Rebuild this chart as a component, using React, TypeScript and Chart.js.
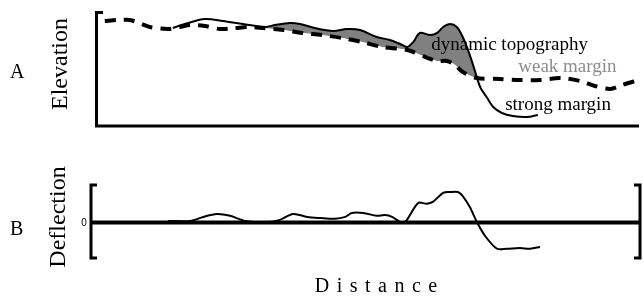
import React, { useEffect, useRef } from "react";
import { Chart, registerables } from "chart.js";
Chart.register(...registerables);

// ---- Data (schematic values) ----
const weakDistance = [1.8, 4.2, 6.4, 8.6, 10.1, 13.4, 15.6, 17.5, 20.2, 23.0, 25.7, 28.5, 30.9, 34.6, 38.1, 41.7, 45.4, 49.1, 52.8, 57.4, 61.2, 62.9, 64.7, 66.2, 67.6, 70.2, 74.4, 78.1, 81.8, 85.5, 89.2, 91.9, 94.7, 96.9, 100];
const weakElevation = [91.3, 92.2, 92.2, 88.7, 86.1, 84.3, 86.1, 87.8, 87.0, 84.3, 85.2, 86.1, 85.2, 83.5, 80.9, 79.1, 76.5, 73.0, 68.7, 66.1, 59.1, 56.5, 56.5, 53.0, 47.0, 41.7, 40.9, 40.0, 40.0, 41.7, 39.1, 34.8, 32.2, 35.7, 40.0];

const strongDistance = [14.3, 16.5, 20.2, 23.5, 27.2, 31.3, 33.1, 35.8, 37.7, 40.4, 43.8, 46.3, 48.7, 51.8, 54.2, 56.1, 57.4, 58.5, 59.7, 61.6, 62.9, 64.0, 65.3, 66.5, 67.6, 68.9, 69.9, 70.8, 72.1, 73.2, 74.8, 76.8, 79.4, 81.4];
const strongElevation = [85.2, 88.7, 93.0, 91.3, 88.7, 86.1, 87.8, 89.6, 88.7, 85.2, 82.6, 84.3, 83.5, 77.4, 74.8, 71.3, 68.7, 73.0, 80.9, 79.1, 80.9, 86.1, 88.7, 86.1, 77.4, 61.7, 47.0, 33.9, 24.3, 16.5, 11.3, 8.7, 7.8, 9.6];

const dynamicTopoRange = [31, 71];

const deflDistance = [13.4, 17.5, 19.9, 22.4, 24.8, 27.6, 31.8, 34.0, 36.4, 39.0, 41.4, 44.1, 46.0, 47.2, 49.3, 51.8, 53.3, 54.6, 56.1, 57.0, 59.4, 61.0, 62.1, 64.0, 65.3, 66.7, 67.6, 68.9, 70.2, 71.7, 73.9, 75.7, 78.1, 80.0, 81.8];
const deflValue = [0.4, 0.4, 1.5, 2.3, 1.8, 0.4, 0.1, 0.7, 2.3, 1.5, 1.2, 1.0, 1.5, 2.6, 2.6, 1.8, 2.0, 1.5, 0.1, 0, 5.3, 5.1, 5.6, 8.1, 8.3, 8.3, 7.2, 4.2, 0.1, -3.7, -7.2, -7.2, -7.0, -7.2, -6.7];

const panelLetters = ["A", "B"];
const yTitles = ["Elevation", "Deflection"];
const xTitle = "Distance";
const curveLabels = ["dynamic topography", "weak margin", "strong margin"];
const zeroTickLabel = "0";

const SERIF = "'Liberation Serif', 'Times New Roman', serif";

function pts(xs: number[], ys: number[]) {
  return xs.map((x, i) => ({ x, y: ys[i] }));
}

const panelAPlugin = {
  id: "panelA",
  afterDraw(chart: any) {
    const { ctx, chartArea } = chart;
    const { left, right, top, bottom } = chartArea;
    const xs = chart.scales.x;
    ctx.save();
    ctx.strokeStyle = "#000";
    ctx.lineWidth = 3;
    ctx.lineCap = "butt";
    ctx.beginPath();
    ctx.moveTo(left + 1.5, top);
    ctx.lineTo(left + 1.5, bottom + 1.5);
    ctx.moveTo(left, bottom);
    ctx.lineTo(right, bottom);
    ctx.moveTo(left, top + 1.5);
    ctx.lineTo(left + 8, top + 1.5);
    ctx.stroke();

    ctx.fillStyle = "#000";
    ctx.font = "20px " + SERIF;
    ctx.textAlign = "left";
    ctx.textBaseline = "alphabetic";
    ctx.fillText(panelLetters[0], 10, 78);

    ctx.save();
    ctx.translate(67, 64);
    ctx.rotate(-Math.PI / 2);
    ctx.font = "24px " + SERIF;
    ctx.textAlign = "center";
    ctx.fillText(yTitles[0], 0, 0);
    ctx.restore();

    ctx.font = "19px " + SERIF;
    ctx.textAlign = "left";
    ctx.fillStyle = "#000";
    ctx.fillText(curveLabels[0], xs.getPixelForValue(61.8), 50);
    ctx.fillStyle = "#8c8c8c";
    ctx.fillText(curveLabels[1], xs.getPixelForValue(77.8), 72);
    ctx.fillStyle = "#000";
    ctx.fillText(curveLabels[2], xs.getPixelForValue(75.4), 110);
    ctx.restore();
  },
};

const panelBPlugin = {
  id: "panelB",
  beforeDatasetsDraw(chart: any) {
    const { ctx, chartArea } = chart;
    const { left, right, top, bottom } = chartArea;
    const y0 = chart.scales.y.getPixelForValue(0);
    ctx.save();
    ctx.strokeStyle = "#000";
    ctx.lineWidth = 4;
    ctx.beginPath();
    ctx.moveTo(left - 4, y0);
    ctx.lineTo(right + 1, y0);
    ctx.stroke();
    ctx.lineWidth = 3;
    const bl = left - 4;
    const br = right + 1;
    ctx.beginPath();
    ctx.moveTo(bl + 6, top + 1);
    ctx.lineTo(bl, top + 1);
    ctx.lineTo(bl, bottom - 1);
    ctx.lineTo(bl + 6, bottom - 1);
    ctx.moveTo(br - 6, top + 1);
    ctx.lineTo(br, top + 1);
    ctx.lineTo(br, bottom - 1);
    ctx.lineTo(br - 6, bottom - 1);
    ctx.stroke();
    ctx.restore();
  },
  afterDraw(chart: any) {
    const { ctx, chartArea } = chart;
    const y0 = chart.scales.y.getPixelForValue(0);
    ctx.save();
    ctx.fillStyle = "#000";
    ctx.font = "20px " + SERIF;
    ctx.textAlign = "left";
    ctx.textBaseline = "alphabetic";
    ctx.fillText(panelLetters[1], 10, 95);

    ctx.save();
    ctx.translate(65, 77);
    ctx.rotate(-Math.PI / 2);
    ctx.font = "24px " + SERIF;
    ctx.textAlign = "center";
    ctx.fillText(yTitles[1], 0, 0);
    ctx.restore();

    ctx.font = "10px 'Liberation Sans', Arial, sans-serif";
    ctx.textAlign = "center";
    ctx.textBaseline = "middle";
    ctx.fillText(zeroTickLabel, 84, y0 + 1);

    // letter-spaced x title
    ctx.font = "20px " + SERIF;
    ctx.textAlign = "left";
    ctx.textBaseline = "alphabetic";
    const spacing = 7.5;
    const letters = xTitle.split("");
    const widths = letters.map((c) => ctx.measureText(c).width);
    const total = widths.reduce((a, b) => a + b, 0) + spacing * (letters.length - 1);
    let x = 376 - total / 2;
    letters.forEach((c, i) => {
      ctx.fillText(c, x, 152);
      x += widths[i] + spacing;
    });
    ctx.restore();
  },
};

export default function App() {
  const refA = useRef<HTMLCanvasElement | null>(null);
  const refB = useRef<HTMLCanvasElement | null>(null);

  useEffect(() => {
    const fillIdx = strongDistance
      .map((d, i) => i)
      .filter((i) => strongDistance[i] >= dynamicTopoRange[0] && strongDistance[i] <= dynamicTopoRange[1]);

    const chartA = new Chart(refA.current as HTMLCanvasElement, {
      type: "line",
      data: {
        datasets: [
          {
            label: "weak margin",
            data: pts(weakDistance, weakElevation),
            borderColor: "#000",
            borderWidth: 4,
            borderDash: [11, 8],
            borderCapStyle: "butt",
            tension: 0.3,
            pointRadius: 0,
            fill: false,
          },
          {
            label: "strong margin",
            data: pts(strongDistance, strongElevation),
            borderColor: "#000",
            borderWidth: 2,
            tension: 0.3,
            pointRadius: 0,
            fill: false,
          },
          {
            label: "dynamic topography",
            data: fillIdx.map((i) => ({ x: strongDistance[i], y: strongElevation[i] })),
            borderColor: "rgba(0,0,0,0)",
            borderWidth: 0,
            tension: 0.3,
            pointRadius: 0,
            fill: { target: 0, above: "#808080", below: "rgba(0,0,0,0)" },
          },
        ],
      },
      options: {
        responsive: false,
        animation: false,
        layout: { padding: { left: 95, right: 4, top: 11, bottom: 14 } },
        scales: {
          x: { type: "linear", min: 0, max: 100, display: false },
          y: { type: "linear", min: 0, max: 100, display: false },
        },
        plugins: { legend: { display: false }, tooltip: { enabled: false } },
      } as any,
      plugins: [panelAPlugin],
    });

    const chartB = new Chart(refB.current as HTMLCanvasElement, {
      type: "line",
      data: {
        datasets: [
          {
            label: "deflection",
            data: pts(deflDistance, deflValue),
            borderColor: "#000",
            borderWidth: 2,
            tension: 0.3,
            pointRadius: 0,
            fill: false,
          },
        ],
      },
      options: {
        responsive: false,
        animation: false,
        layout: { padding: { left: 95, right: 4, top: 44, bottom: 38 } },
        scales: {
          x: { type: "linear", min: 0, max: 100, display: false },
          y: { type: "linear", min: -10, max: 10.5, display: false },
        },
        plugins: { legend: { display: false }, tooltip: { enabled: false } },
      } as any,
      plugins: [panelBPlugin],
    });

    return () => {
      chartA.destroy();
      chartB.destroy();
    };
  }, []);

  return (
    <div style={{ position: "absolute", left: 0, top: 0, width: 643, height: 297, background: "#fff" }}>
      <canvas ref={refA} width={643} height={140} style={{ position: "absolute", left: 0, top: 0, width: 643, height: 140 }} />
      <canvas ref={refB} width={643} height={157} style={{ position: "absolute", left: 0, top: 140, width: 643, height: 157 }} />
    </div>
  );
}
